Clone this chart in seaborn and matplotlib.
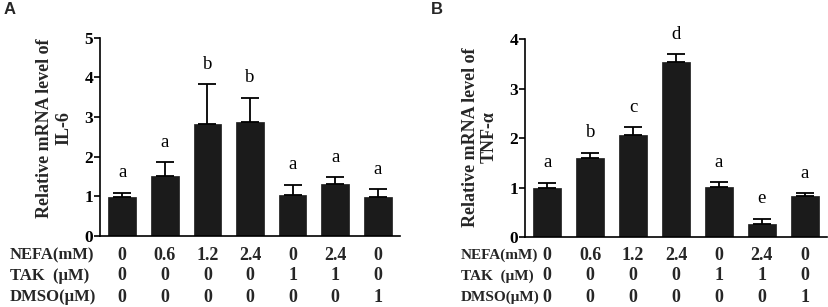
import numpy as np
import pandas as pd
import matplotlib
matplotlib.use("Agg")
import matplotlib.pyplot as plt
import matplotlib.transforms as mtransforms
import seaborn as sns

# ---- data ----
groups = ["G1", "G2", "G3", "G4", "G5", "G6", "G7"]
nefa = ["0", "0.6", "1.2", "2.4", "0", "2.4", "0"]
tak = ["0", "0", "0", "0", "1", "1", "0"]
dmso = ["0", "0", "0", "0", "0", "0", "1"]

il6_mean = [0.99, 1.52, 2.83, 2.88, 1.04, 1.31, 0.97]
il6_err = [0.10, 0.34, 0.99, 0.60, 0.25, 0.17, 0.21]
il6_letters = ["a", "a", "b", "b", "a", "a", "a"]

tnf_mean = [0.99, 1.59, 2.06, 3.54, 1.01, 0.27, 0.84]
tnf_err = [0.11, 0.11, 0.16, 0.15, 0.10, 0.10, 0.05]
tnf_letters = ["a", "b", "c", "d", "a", "e", "a"]

row_labels = ["NEFA(mM)", "TAK  (\u03bcM)", "DMSO(\u03bcM)"]

sns.set_style("ticks")
plt.rcParams["font.family"] = ["Liberation Serif", "DejaVu Serif"]
plt.rcParams["mathtext.default"] = "regular"

W, H = 829, 307
fig = plt.figure(figsize=(W / 100, H / 100), dpi=100)

BAR_COLOR = "#1b1b1b"


def px_axes(left, top, right, bottom):
    return fig.add_axes([left / W, 1 - bottom / H, (right - left) / W, (bottom - top) / H])


def panel(ax, means, errs, letters, ymax, ylabel, label_x, label_y, row_x, row_fs,
          panel_letter, panel_x):
    df = pd.DataFrame({"group": groups, "value": means})
    sns.barplot(data=df, x="group", y="value", order=groups, color=BAR_COLOR,
                width=0.645, saturation=1, errorbar=None, ax=ax,
                edgecolor=BAR_COLOR, linewidth=0.5)
    xs = np.arange(len(groups))
    ax.errorbar(xs, means, yerr=[np.zeros(len(means)), errs], fmt="none",
                ecolor="black", elinewidth=1.3, capsize=6.5, capthick=1.3)
    for x, m, e, l in zip(xs, means, errs, letters):
        ax.annotate(l, (x, m + e), xytext=(0, 14.5), textcoords="offset points",
                    ha="center", va="center", fontsize=13.5, color="black")
    ax.set_xlim(-0.52, 6.52)
    ax.set_ylim(0, ymax)
    ax.set_yticks(range(0, ymax + 1))
    ax.set_yticklabels([str(v) for v in range(0, ymax + 1)], fontsize=12.5, fontweight="bold")
    ax.set_xticks([])
    ax.set_xlabel("")
    ax.set_ylabel("")
    for s in ["top", "right"]:
        ax.spines[s].set_visible(False)
    for s in ["left", "bottom"]:
        ax.spines[s].set_linewidth(1.2)
        ax.spines[s].set_color("black")
    ax.tick_params(axis="y", length=4, width=1.2, pad=1, colors="black")

    fig.text(label_x / W, 1 - label_y / H, ylabel, rotation=90, ha="center", va="center",
             multialignment="center", fontsize=13, fontweight="bold", linespacing=1.15)

    trans = mtransforms.blended_transform_factory(ax.transData, fig.transFigure)
    rows_y = [255, 276, 297]
    rows = [nefa, tak, dmso]
    for ry, lab, vals in zip(rows_y, row_labels, rows):
        fig.text(row_x / W, 1 - ry / H, lab, ha="left", va="center",
                 fontsize=row_fs, fontweight="bold")
        for x, v in zip(xs, vals):
            ax.text(x, 1 - ry / H, v, transform=trans, ha="center", va="center",
                    fontsize=13, fontweight="bold", clip_on=False)

    fig.text(panel_x / W, 1 - 9 / H, panel_letter, ha="center", va="center",
             fontsize=12, fontweight="bold", family=["Liberation Sans", "DejaVu Sans"])


axA = px_axes(100, 37.5, 400, 236)
panel(axA, il6_mean, il6_err, il6_letters, 5, "Relative mRNA level of\nIL-6",
      54, 128, 10, 12, "A", 10)

axB = px_axes(525, 39, 827, 237.3)
panel(axB, tnf_mean, tnf_err, tnf_letters, 4, "Relative mRNA level of\nTNF-\u03b1",
      480, 137, 461, 11, "B", 437)

fig.savefig("out.png", dpi=100)
